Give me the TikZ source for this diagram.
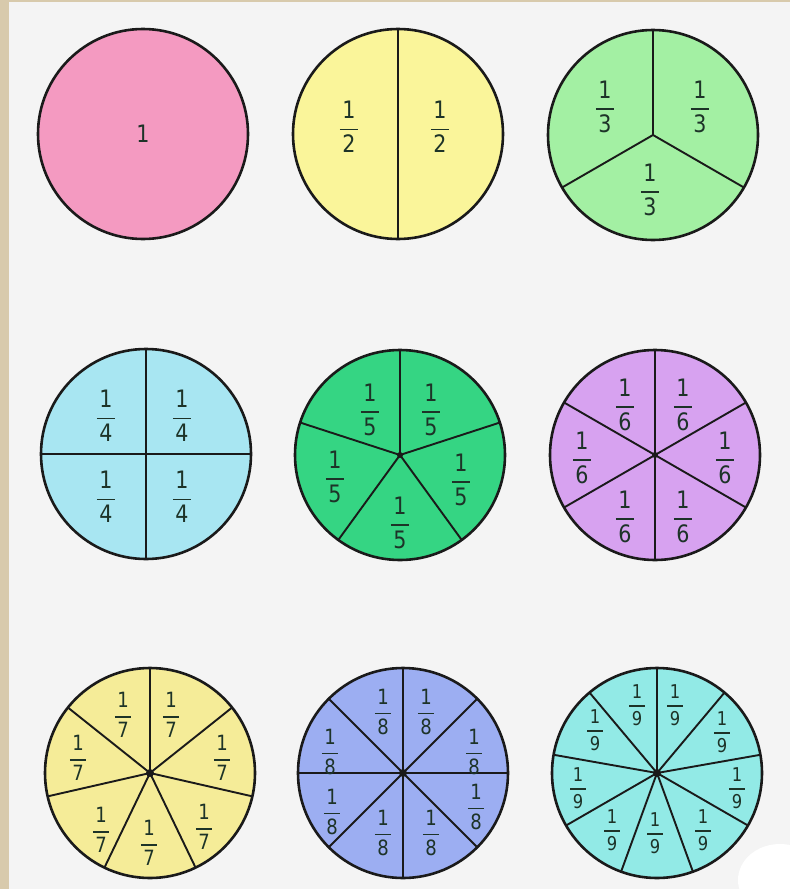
\documentclass[tikz,border=0pt]{standalone}
\usepackage{amsmath}
\usepackage{fontspec}
\setmainfont{DejaVu Sans}[FakeStretch=0.86]
\usepackage{tikz}

\definecolor{paper}{HTML}{D8CAAC}
\definecolor{panel}{HTML}{F4F4F4}
\definecolor{rimcol}{HTML}{1A1A1A}
\definecolor{txtcol}{HTML}{1D3328}
\definecolor{pinkfill}{HTML}{F49AC1}
\definecolor{halffill}{HTML}{FAF59A}
\definecolor{thirdfill}{HTML}{A3F0A3}
\definecolor{quarterfill}{HTML}{A8E6F2}
\definecolor{fifthfill}{HTML}{35D583}
\definecolor{sixthfill}{HTML}{D7A2F0}
\definecolor{seventhfill}{HTML}{F5EC98}
\definecolor{eighthfill}{HTML}{9CAEF2}
\definecolor{ninthfill}{HTML}{92EAE6}

\newcommand{\fr}[1]{$\genfrac{}{}{1.5pt}{0}{\mbox{\kern2.5pt1\kern2.5pt}}{\mbox{#1}}$}

\begin{document}
\begin{tikzpicture}[x=1pt,y=1pt,
    rim/.style={line width=2.6pt, draw=rimcol},
    cut/.style={line width=1.9pt, draw=rimcol},
    frac/.style={text=txtcol, inner sep=0pt, font=\fontsize{24}{28}\selectfont},
    smallfrac/.style={frac, font=\fontsize{21}{25}\selectfont},
    tinyfrac/.style={frac, font=\fontsize{19}{23}\selectfont}]

\def\R{105}

% Background
\fill[paper] (0,0) rectangle (790,-889);
\fill[panel] (9,-2) rectangle (790,-889);
\useasboundingbox (0,0) rectangle (790,-889);

% Centres of the discs
\coordinate (one) at (143,-134);
\coordinate (half) at (398,-134);
\coordinate (third) at (653,-135);
\coordinate (quarter) at (146,-454);
\coordinate (fifth) at (400,-455);
\coordinate (sixth) at (655,-455);
\coordinate (seventh) at (150,-773);
\coordinate (eighth) at (403,-773);
\coordinate (ninth) at (657,-773);

% Whole
\filldraw[rim, fill=pinkfill] (one) circle (\R);
\node[frac] (w1) at (one) {1};

% Halves
\filldraw[rim, fill=halffill] (half) circle (\R);
\draw[cut] (half) -- ++(90:\R);
\draw[cut] (half) -- ++(-90:\R);
\foreach \x/\y [count=\i] in {-49/7, 42/7}
  \node[frac] (h\i) at ([shift={(\x,\y)}]half) {\fr{2}};

% Thirds
\filldraw[rim, fill=thirdfill] (third) circle (\R);
\foreach \a in {90,210,330}
  \draw[cut] (third) -- ++(\a:\R);
\foreach \x/\y [count=\i] in {-48/28, 47/28, -3/-55}
  \node[frac] (t\i) at ([shift={(\x,\y)}]third) {\fr{3}};

% Quarters
\filldraw[rim, fill=quarterfill] (quarter) circle (\R);
\foreach \a in {0,90,180,270}
  \draw[cut] (quarter) -- ++(\a:\R);
\foreach \x/\y [count=\i] in {-40/38, 36/38, -40/-43, 36/-43}
  \node[frac] (q\i) at ([shift={(\x,\y)}]quarter) {\fr{4}};

% Fifths
\filldraw[rim, fill=fifthfill] (fifth) circle (\R);
\foreach \k in {0,...,4}
  \draw[cut] (fifth) -- ++({90-\k*72}:\R);
\fill[rimcol] (fifth) circle (3);
\foreach \x/\y [count=\i] in {-30/45, 31/45, -65/-22, 61/-25, 0/-68}
  \node[frac] (f\i) at ([shift={(\x,\y)}]fifth) {\fr{5}};

% Sixths
\filldraw[rim, fill=sixthfill] (sixth) circle (\R);
\foreach \k in {0,...,5}
  \draw[cut] (sixth) -- ++({90-\k*60}:\R);
\fill[rimcol] (sixth) circle (3);
\foreach \x/\y [count=\i] in {-30/50, 28/50, -73/-3, 70/-3, -30/-62, 28/-62}
  \node[frac] (s\i) at ([shift={(\x,\y)}]sixth) {\fr{6}};

% Sevenths
\filldraw[rim, fill=seventhfill] (seventh) circle (\R);
\foreach \k in {0,...,6}
  \draw[cut] (seventh) -- ++({90-\k*360/7}:\R);
\fill[rimcol] (seventh) circle (4);
\foreach \x/\y [count=\i] in {-27/58, 21/58, -72/15, 72/15, -49/-57, -1/-70, 54/-54}
  \node[smallfrac] (v\i) at ([shift={(\x,\y)}]seventh) {\fr{7}};

% Eighths
\filldraw[rim, fill=eighthfill] (eighth) circle (\R);
\foreach \k in {0,...,7}
  \draw[cut] (eighth) -- ++({90-\k*45}:\R);
\fill[rimcol] (eighth) circle (4);
\foreach \x/\y [count=\i] in {-20/61, 23/61, -73/21, 71/21, -71/-39, 73/-34, -20/-60, 28/-60}
  \node[smallfrac] (e\i) at ([shift={(\x,\y)}]eighth) {\fr{8}};

% Ninths
\filldraw[rim, fill=ninthfill] (ninth) circle (\R);
\foreach \k in {0,...,8}
  \draw[cut] (ninth) -- ++({90-\k*40}:\R);
\fill[rimcol] (ninth) circle (4);
\foreach \x/\y [count=\i] in {-20/68, 18/68, -62/43, 65/41, -79/-15, 80/-15, -45/-57, -2/-60, 46/-57}
  \node[tinyfrac] (n\i) at ([shift={(\x,\y)}]ninth) {\fr{9}};

% White blot in the corner
\fill[white] (780,-880) ellipse (42 and 36);

\end{tikzpicture}
\end{document}
